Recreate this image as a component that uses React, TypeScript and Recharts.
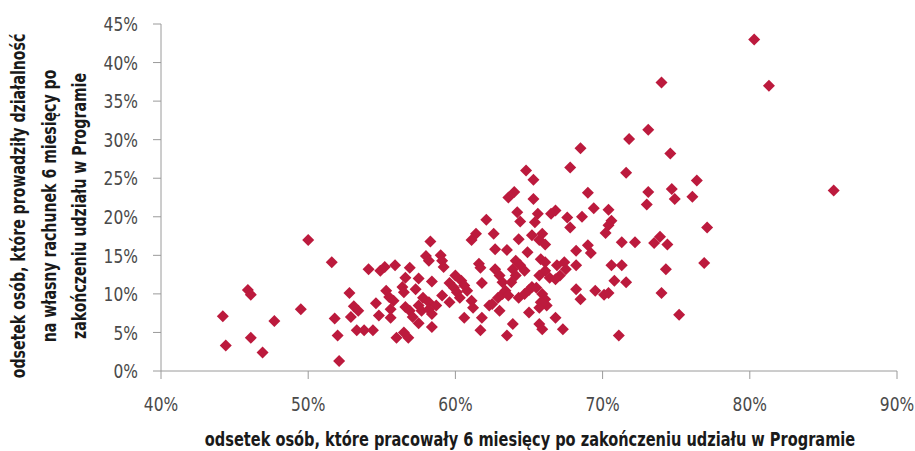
import { ScatterChart, Scatter, XAxis, YAxis, Label } from "recharts";

// share of people working 6 months after the Programme (%)
const PCT_WORKING = [
  44.2, 44.4, 45.9, 46.1, 46.1, 46.9, 47.7, 49.5, 50.0,
  51.6, 51.8, 52.0, 52.1, 52.8, 52.9, 53.1, 53.4, 53.3, 53.8, 54.4, 54.1, 54.9, 55.2, 55.9,
  54.6, 54.8, 55.3, 55.5, 55.8, 55.6, 55.6, 56.0, 56.4, 56.5, 56.5, 56.8, 56.6, 56.9, 57.1,
  56.9, 56.6, 57.5, 58.4, 57.3, 57.8, 58.2, 58.7, 59.1, 57.5, 57.7, 58.2, 58.4, 57.5, 58.4,
  58.3, 58.0, 58.2, 59.0, 59.1, 59.2, 59.6,
  64.8, 65.3, 67.8, 64.0, 63.6, 65.3, 62.1, 64.2, 64.4, 65.6, 65.4, 66.8, 66.5, 67.6, 67.8,
  61.4, 61.1, 62.6, 64.3, 65.2, 65.7, 66.1, 65.9, 62.7, 63.5, 64.9, 61.6, 61.7, 62.7, 63.0,
  63.2, 64.1, 64.4, 64.7, 63.9, 64.1, 63.8, 65.8, 66.1, 66.9, 67.4, 67.5, 68.2, 65.7, 66.1,
  66.4, 67.1, 66.8, 60.0, 60.4, 60.6, 60.8, 59.9, 60.1, 60.3, 61.8, 62.9, 63.2, 63.4, 63.6,
  64.3, 64.7, 65.0, 65.2, 65.5, 65.9, 66.1, 66.2, 61.1, 61.2, 59.6, 62.3, 62.5, 63.0, 65.0,
  65.8, 65.7, 60.6, 61.8, 63.9, 65.7, 65.9, 66.8, 67.3, 61.7, 63.5,
  73.1, 71.8, 68.5, 74.6, 71.6, 76.4, 69.0, 73.1, 73.0, 74.7, 74.9, 76.1, 69.4, 70.4, 68.6,
  70.6, 70.4, 70.2, 71.3, 72.2, 73.5, 73.9, 74.4, 68.2, 69.0, 69.2, 70.6, 71.3, 74.3, 76.9,
  77.1, 70.8, 71.6, 68.2, 68.5, 69.5, 70.1, 70.4, 74.0, 75.2, 71.1, 74.0, 80.3, 81.3, 85.7,
];

// share of people running their own business 6 months after (%)
const PCT_OWN_BUSINESS = [
  7.1, 3.3, 10.5, 9.9, 4.3, 2.4, 6.5, 8.0, 17.0,
  14.1, 6.8, 4.6, 1.3, 10.1, 7.0, 8.4, 7.8, 5.3, 5.3, 5.3, 13.2, 13.0, 13.5, 13.7,
  8.8, 7.2, 10.4, 9.6, 9.1, 8.0, 6.9, 4.3, 10.9, 10.2, 5.0, 4.3, 8.3, 7.8, 7.0,
  13.4, 12.1, 12.0, 11.6, 10.6, 9.5, 8.9, 8.5, 9.8, 8.5, 7.8, 8.0, 7.4, 6.2, 5.7,
  16.8, 14.9, 14.3, 15.0, 14.3, 13.5, 11.4,
  26.0, 24.8, 26.4, 23.2, 22.5, 22.3, 19.6, 20.6, 19.4, 20.4, 19.3, 20.8, 20.4, 19.9, 18.6,
  17.8, 17.0, 17.8, 17.1, 17.6, 17.0, 16.4, 17.8, 15.8, 15.7, 15.4, 13.9, 13.4, 13.2, 12.4,
  11.5, 14.3, 13.7, 13.0, 13.2, 12.4, 11.5, 14.5, 14.1, 13.7, 14.1, 13.2, 13.7, 12.4, 13.0,
  12.1, 12.4, 11.9, 12.4, 11.7, 11.1, 10.4, 10.8, 10.2, 9.5, 11.4, 9.5, 10.0, 10.4, 9.8,
  9.5, 10.0, 10.5, 10.9, 10.8, 10.0, 9.3, 8.5, 9.1, 8.2, 8.9, 8.5, 8.7, 7.8, 7.6,
  8.9, 8.2, 6.9, 6.9, 6.1, 6.1, 5.4, 6.9, 5.4, 5.3, 4.6,
  31.3, 30.1, 28.9, 28.2, 25.7, 24.7, 23.1, 23.2, 21.6, 23.6, 22.3, 22.6, 21.1, 20.9, 20.0,
  19.5, 18.9, 17.9, 16.7, 16.7, 16.6, 17.4, 16.4, 15.6, 16.3, 15.3, 13.7, 13.7, 13.2, 14.0,
  18.6, 11.7, 11.5, 10.6, 9.3, 10.4, 9.9, 10.1, 10.1, 7.3, 4.6, 37.4, 43.0, 37.0, 23.4,
];

const X_TICKS = [40, 50, 60, 70, 80, 90];
const Y_TICKS = [0, 5, 10, 15, 20, 25, 30, 35, 40, 45];

const X_TITLE = "odsetek osób, które pracowały 6 miesięcy po zakończeniu udziału w Programie";
const Y_TITLE = [
  "odsetek osób, które prowadziły działalność",
  "na własny rachunek 6 miesięcy po",
  "zakończeniu udziału w Programie",
];

const data = PCT_WORKING.map((x, i) => ({ x, y: PCT_OWN_BUSINESS[i] }));

const RED = "#BC1A3D";
const AXIS = "#9a9a9a";
const FONT = "'DejaVu Sans Condensed', 'DejaVu Sans', sans-serif";

// the original uses a narrow font, so squeeze text horizontally
const tickText = { fontFamily: FONT, fontSize: 20, fill: "#4a4a4a" };
const titleText = { fontFamily: FONT, fontSize: 20, fontWeight: 700, fill: "#1a1a1a" };

const XTick = (props: any) => {
  const { x, y, payload } = props;
  return (
    <text
      transform={`translate(${x},${y}) scale(0.86,1)`}
      textAnchor="middle"
      dy="0.71em"
      style={tickText}
    >
      {`${payload.value}%`}
    </text>
  );
};

const YTick = (props: any) => {
  const { x, y, payload } = props;
  return (
    <text
      transform={`translate(${x},${y}) scale(0.86,1)`}
      textAnchor="end"
      dy="0.36em"
      style={tickText}
    >
      {`${payload.value}%`}
    </text>
  );
};

// rotated square marker like Excel's diamond
const Diamond = (props: any) => {
  const { cx, cy } = props;
  const r = 6;
  return (
    <polygon
      points={`${cx},${cy - r} ${cx + r},${cy} ${cx},${cy + r} ${cx - r},${cy}`}
      fill={RED}
    />
  );
};

const YTitle = () => (
  <g>
    {Y_TITLE.map((line, i) => (
      <text
        key={i}
        transform={`translate(${18 + i * 30.5},206) rotate(-90) scale(0.785,1)`}
        textAnchor="middle"
        dominantBaseline="central"
        style={titleText}
      >
        {line}
      </text>
    ))}
  </g>
);

const XTitle = () => (
  <text
    transform="translate(530,446) scale(0.81,1)"
    textAnchor="middle"
    style={titleText}
  >
    {X_TITLE}
  </text>
);

export default function App() {
  return (
    <div style={{ position: "absolute", left: 0, top: 0, background: "#fff" }}>
      <ScatterChart
        width={915}
        height={451}
        margin={{ top: 24, right: 18, bottom: 0, left: 0 }}
      >
        <XAxis
          type="number"
          dataKey="x"
          domain={[40, 90]}
          ticks={X_TICKS}
          height={80}
          stroke={AXIS}
          tickSize={8}
          tickMargin={18}
          tick={XTick}
          interval={0}
        >
          <Label content={XTitle} />
        </XAxis>
        <YAxis
          type="number"
          dataKey="y"
          domain={[0, 45]}
          ticks={Y_TICKS}
          width={161}
          stroke={AXIS}
          tickSize={8}
          tickMargin={15}
          tick={YTick}
          interval={0}
        >
          <Label content={YTitle} />
        </YAxis>
        <Scatter data={data} shape={Diamond} isAnimationActive={false} />
      </ScatterChart>
    </div>
  );
}
